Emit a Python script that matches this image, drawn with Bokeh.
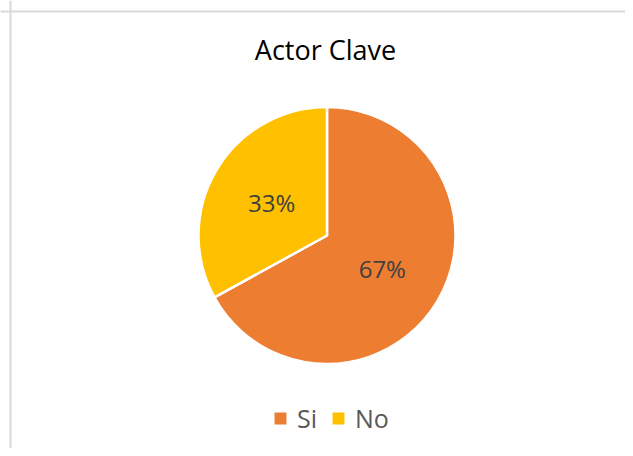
import math
from bokeh.plotting import figure
from bokeh.models import Range1d, Span, Legend, LegendItem, ColumnDataSource
from bokeh.core.properties import value
from bokeh.embed import file_html
from bokeh.resources import INLINE

# ---- data ----
title_text = "Actor Clave"
categories = ["Si", "No"]
percents = [67, 33]
colors = ["#ED7D31", "#FFC000"]

W, H = 625, 448
p = figure(width=W, height=H, output_backend="svg", toolbar_location=None,
           x_range=Range1d(0, W), y_range=Range1d(0, H), min_border=0)
p.axis.visible = False
p.grid.visible = False
p.outline_line_color = None
p.background_fill_color = "white"
p.border_fill_color = "white"

# chart-area border (left & top visible)
p.add_layout(Span(location=10, dimension="height", line_color="#d9d9d9", line_width=2))
p.add_layout(Span(location=437, dimension="width", line_color="#d9d9d9", line_width=2))

cx, cy, r = 326.5, 213, 128.5
total = sum(percents)
starts, ends, lx, ly, labels = [], [], [], [], []
a = math.pi / 2
for v in percents:
    span = 2 * math.pi * v / total
    starts.append(a)
    ends.append(a - span)
    mid = a - span / 2
    lx.append(cx + 0.5 * r * math.cos(mid))
    ly.append(cy + 0.5 * r * math.sin(mid))
    labels.append(f"{v}%")
    a -= span

src = ColumnDataSource(dict(cat=categories, start=starts, end=ends, color=colors,
                            lx=lx, ly=ly, lab=labels))
w = p.wedge(x=cx, y=cy, radius=r, start_angle="start", end_angle="end",
            direction="clock", fill_color="color", line_color="white",
            line_width=2.5, source=src)

p.text(x="lx", y="ly", text="lab", source=src, text_align="center",
       text_baseline="middle", text_font=value("Open Sans"),
       text_font_size="24px", text_color="#404040")

p.text(x=[325], y=[399], text=[title_text], text_align="center",
       text_baseline="middle", text_font=value("Open Sans"),
       text_font_size="27px", text_color="#000000")

items = [LegendItem(label=categories[i], renderers=[w], index=i) for i in range(len(categories))]
leg = Legend(items=items, orientation="horizontal", location=(271, 13),
             glyph_width=18, glyph_height=18, label_standoff=8, spacing=12,
             padding=0, margin=0, border_line_color=None, background_fill_alpha=0,
             label_text_font="Open Sans", label_text_font_size="25px",
             label_text_color="#595959", label_width=0)
p.add_layout(leg, "center")

open("out.html", "w").write(file_html(p, INLINE))
